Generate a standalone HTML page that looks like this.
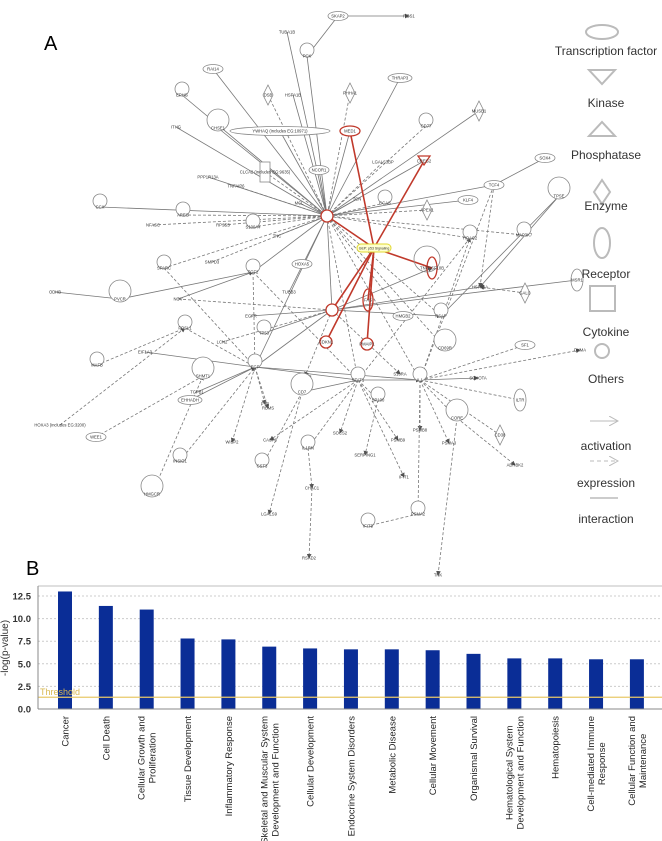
<!DOCTYPE html>
<html><head><meta charset="utf-8">
<style>
html,body{margin:0;padding:0;background:#fff;}
body{width:662px;height:841px;overflow:hidden;font-family:"Liberation Sans",sans-serif;}
svg{position:absolute;left:0;top:0;}
</style></head>
<body>
<svg id="net" width="662" height="841" viewBox="0 0 662 841">
<defs>
<marker id="ar" markerWidth="6" markerHeight="6" refX="5" refY="3" orient="auto"><path d="M0,0 L6,3 L0,6 z" fill="#555"/></marker>
<marker id="lg" markerWidth="10" markerHeight="10" refX="9" refY="5" orient="auto"><path d="M0,0 L9,5 L0,10" fill="none" stroke="#bbb"/></marker>
</defs>
<text x="44" y="50" font-size="20" fill="#000">A</text>
<text x="26" y="575" font-size="20" fill="#000">B</text>
<g id="edges"></g><g id="nodes"></g>
<g fill="none" stroke="#bbb" stroke-width="2" font-size="12">
<ellipse cx="602" cy="32" rx="16" ry="7"/>
<path d="M589,70 L615,70 L602,84 z"/>
<path d="M589,136 L615,136 L602,122 z"/>
<path d="M602,180 L610,192 L602,204 L594,192 z"/>
<ellipse cx="602" cy="243" rx="8" ry="15"/>
<rect x="590" y="286" width="25" height="25"/>
<circle cx="602" cy="351" r="7"/>
<line x1="590" y1="421" x2="618" y2="421" marker-end="url(#lg)" stroke-width="1"/>
<line x1="590" y1="461" x2="618" y2="461" stroke-dasharray="4,3" marker-end="url(#lg)" stroke-width="1"/>
<line x1="590" y1="498" x2="618" y2="498" stroke-width="1.5"/>
<g fill="#333" stroke="none" text-anchor="middle">
<text x="606" y="55">Transcription factor</text>
<text x="606" y="107">Kinase</text>
<text x="606" y="159">Phosphatase</text>
<text x="606" y="210">Enzyme</text>
<text x="606" y="278">Receptor</text>
<text x="606" y="336">Cytokine</text>
<text x="606" y="383">Others</text>
<text x="606" y="450">activation</text>
<text x="606" y="487">expression</text>
<text x="606" y="523">interaction</text>
</g></g>
</svg>

<svg id="chart" width="662" height="841" viewBox="0 0 662 841"></svg>

<script>
// ---- bar chart data ----
const categories = [["Cancer"],["Cell Death"],["Cellular Growth and","Proliferation"],["Tissue Development"],["Inflammatory Response"],["Skeletal and Muscular System","Development and Function"],["Cellular Development"],["Endocrine System Disorders"],["Metabolic Disease"],["Cellular Movement"],["Organismal Survival"],["Hematological System","Development and Function"],["Hematopoiesis"],["Cell-mediated Immune","Response"],["Cellular Function and","Maintenance"]];
const values = [13.0,11.4,11.0,7.8,7.7,6.9,6.7,6.6,6.6,6.5,6.1,5.6,5.6,5.5,5.5];
const tickValues = [0,2.5,5,7.5,10,12.5];
const tickLabels = ["0.0","2.5","5.0","7.5","10.0","12.5"];
const threshold = 1.3;

const NS="http://www.w3.org/2000/svg";
function mk(parent,tag,attrs){const e=document.createElementNS(NS,tag);for(const k in attrs)e.setAttribute(k,attrs[k]);parent.appendChild(e);return e;}
const ch=document.getElementById('chart');
const y0=709, pxPer=9.04, xL=38, xR=662;
const yS=v=>y0-v*pxPer;
const xS=i=>65+i*40.85;
let fr=mk(ch,'line',{x1:xL,y1:586,x2:xR,y2:586,stroke:'#ccc','stroke-width':1.2});


tickValues.forEach((v,i)=>{
  if(v>0){const g=mk(ch,'line',{x1:xL,y1:yS(v),x2:xR,y2:yS(v),stroke:'#ccc','stroke-dasharray':'2,2'});
  
  }
  const t=mk(ch,'text',{x:31,y:yS(v)+3.5,'text-anchor':'end','font-size':'9.5','font-weight':'bold',fill:'#333'});
  t.textContent=tickLabels[i];
  
  
});
const yt=mk(ch,'text',{x:0,y:0,transform:'translate(8,648) rotate(-90)','text-anchor':'middle','font-size':'10',fill:'#333'});
yt.textContent='-log(p-value)';


values.forEach((v,i)=>{
  const b=mk(ch,'rect',{x:xS(i)-7,y:yS(v),width:14,height:v*pxPer,fill:'#0a2d96'});
  
  
  const lines=categories[i];
  const els=lines.map((ln,j)=>{
    const t=mk(ch,'text',{x:0,y:0,'font-size':'9.5',fill:'#222'});
    t.textContent=ln;
    
    
    return t;
  });
  const maxW=Math.max(...els.map(t=>t.getComputedTextLength()));
  els.forEach((t,j)=>{
    const off=(j-(lines.length-1)/2)*11;
    if(lines.length>1){
      t.setAttribute('text-anchor','middle');
      t.setAttribute('transform',`translate(${xS(i)+off+3.5},${716+maxW/2}) rotate(-90)`);
    } else {
      t.setAttribute('text-anchor','end');
      t.setAttribute('transform',`translate(${xS(i)+3.5},716) rotate(-90)`);
    }
  });
});
const th=mk(ch,'line',{x1:xL,y1:yS(threshold),x2:xR,y2:yS(threshold),stroke:'#e8c96a','stroke-width':1.2});


const tt=mk(ch,'text',{x:40,y:yS(threshold)-2,'font-size':'9',fill:'#d9b850'});
tt.textContent='Threshold';


mk(ch,'line',{x1:xL,y1:586,x2:xL,y2:y0,stroke:'#888'});
mk(ch,'line',{x1:xL,y1:y0,x2:xR,y2:y0,stroke:'#888'});

// ---- network ----
const nodes = {
SKAP2:[338,16,'SKAP2','o'],RGS1:[409,16,'RGS1','t'],TUBA1B:[287,32,'TUBA1B','t'],PCK:[307,56,'PCK','c'],
RAI14:[213,69,'RAI14','o'],HSPA1B:[293,95,'HSPA1B','t'],DSB:[268,95,'DSB','d'],THRAP3:[400,78,'THRAP3','o'],
PHHA1:[350,93,'PHHA1','d'],EPHG:[182,95,'EPHG','c'],MUSB1:[479,111,'MUSB1','d'],YWHAQ:[280,131,'YWHAQ (includes EG:10971)','o'],
MED1:[350,131,'MED1','r'],CD77:[426,126,'CD77','c'],CHSE1:[218,128,'CHSE1','C'],ITHG:[176,127,'ITHG','t'],
LGALS3BP:[383,162,'LGALS3BP','t'],CREG2:[424,161,'CREG2','rt'],SOX4:[545,158,'SOX4','o'],TCF4:[494,185,'TCF4','o'],
NCOR1:[319,170,'NCOR1','o'],CLCA2:[265,172,'CLCA2 (includes EG:9635)','s'],PPP1R13A:[208,177,'PPP1R13A','t'],TNFAIP6:[236,186,'TNFAIP6','t'],
TCN:[357,199,'TCN','t'],MCL:[299,203,'MCL','t'],HUB1:[327,216,'','rc'],CCAS:[385,203,'CCAS','c'],KLF4:[468,200,'KLF4','o'],
AREG:[183,215,'AREG','c'],CCX:[100,207,'CCX','c'],NFASC:[153,225,'NFASC','t'],RPS:[223,225,'RPS5S','t'],S100A4:[253,227,'S100A4','c'],
TNC:[277,236,'TNC','t'],APEX1:[427,210,'APEX1','d'],GEP:[374,248,'GEP: p53 Signaling','g'],HOAC2:[470,238,'HOAC2','c'],
MAP3K7:[524,235,'MAP3K7','c'],TPSE:[559,196,'TPSE','C'],SPARC:[164,268,'SPARC','c'],SMPD:[212,262,'SMPD3','t'],TGF2:[253,272,'TGF2','c'],
TUBB3:[289,292,'TUBB3','t'],HOXA3b:[302,264,'HOXA5','o'],FAS:[368,300,'FAS','re'],TNFR:[432,268,'TNFRSF10B','re'],HMGB2:[403,316,'HMGB2','o'],
PSAP:[441,316,'PSAP','c'],HSPA1A:[480,287,'HSPA1A','t'],GALC:[525,293,'GALC','d'],MSR1:[577,280,'MSR1','e'],PVCR:[120,299,'PVCR','C'],
NOV:[178,299,'NOV','t'],EGF2:[251,316,'EGFR','t'],HUB2:[332,310,'','rc'],CDKN1:[326,342,'CDKN1','rc'],PMAIP1:[367,344,'PMAIP1','rc'],
ODHB:[55,292,'ODHB','t'],FOSL1:[185,328,'FOSL1','c'],LCN2:[222,342,'LCN2','t'],SF1:[525,345,'SF1','o'],DKMA:[580,350,'DKMA','t'],
TP:[264,333,'TP53','c'],STAT1:[358,380,'STAT1','c'],S10RA:[400,374,'S10RA','t'],CD69R:[445,348,'CD69R','C'],EIF1A:[145,352,'EIF1A3','t'],
MAFB:[97,365,'MAFB','c'],EGF:[255,367,'EGF','c'],EMT:[203,376,'SHMT1','C'],ICAM:[305,376,'ICAMs','t'],TGFB:[197,392,'TGFB1','t'],
EHHADH:[190,400,'EHHADH','o'],IL1:[420,380,'IL1','c'],SOHOTA:[478,378,'SOHOTA','t'],ILTR:[520,400,'ILTR','e'],CD7:[302,392,'CD7','C'],
SP100:[378,400,'SP100','c'],CORE:[457,418,'CORE','C'],CD38:[500,435,'CD38','d'],HOXA3:[60,425,'HOXA3 (includes EG:3200)','t'],
WEE1:[96,437,'WEE1','o'],WISP2:[232,442,'WISP2','t'],CASP:[270,440,'CASP8','t'],RBMS:[268,408,'RBMS','t'],PYE:[265,404,'PYE','t'],
SOCS2:[340,433,'SOCS2','t'],PSMB8:[420,430,'PSMB8','t'],PSMB9:[398,440,'PSMB9','t'],PSMA3:[449,443,'PSMA3','t'],IL1RN:[308,448,'IL1RN','c'],
SERPING1:[365,455,'SERPING1','t'],ADRBK2:[515,465,'ADRBK2','t'],INSIG1:[180,461,'INSIG1','c'],CST3:[262,466,'CST3','c'],HMGCR:[152,494,'HMGCR','C'],
IFIT1:[404,477,'IFIT1','t'],CHAC1:[312,488,'CHAC1','t'],PSMA2:[418,514,'PSMA2','c'],IFIT3:[368,526,'IFIT3','c'],LGALS9:[269,514,'LGALS9','t'],
RSAD2:[309,558,'RSAD2','t'],TNK:[438,575,'TNK','t']
};
const edges = [
['SKAP2','RGS1',0],['SKAP2','PCK',0],['TUBA1B','HUB1',0],['PCK','HUB1',0],['HSPA1B','HUB1',0],['DSB','HUB1',1],['RAI14','HUB1',0],['THRAP3','HUB1',0],
['PHHA1','HUB1',1],['EPHG','HUB1',0],['MUSB1','HUB1',0],['YWHAQ','HUB1',0],['MED1','HUB1',0],['CD77','HUB1',1],['CHSE1','HUB1',0],['ITHG','HUB1',0],
['LGALS3BP','HUB1',1],['CREG2','HUB1',0],['SOX4','TCF4',0],['TCF4','HUB1',0],['NCOR1','HUB1',0],['CLCA2','HUB1',1],['PPP1R13A','HUB1',0],['TNFAIP6','HUB1',1],
['TCN','HUB1',0],['MCL','HUB1',0],['CCAS','HUB1',1],['KLF4','HUB1',0],['AREG','HUB1',1],['CCX','HUB1',0],['NFASC','HUB1',1],['RPS','HUB1',1],['S100A4','HUB1',1],
['TNC','HUB1',0],['APEX1','HUB1',1],['HOAC2','HUB1',1],['MAP3K7','HUB1',1],['TPSE','HSPA1A',0],['SPARC','HUB1',1],['SMPD','HUB1',1],['TGF2','HUB1',0],
['TUBB3','HUB1',0],['HUB1','HUB2',0],['HUB1','STAT1',1],['HUB1','IL1',1],['HUB1','EGF',0],['HUB1','PSAP',1],['HUB1','HMGB2',1],['HUB1','CD69R',1],
['HSPA1A','HUB2',0],['MSR1','HUB2',0],['GALC','HSPA1A',1],['PVCR','TGF2',0],['ODHB','PVCR',0],['NOV','TGF2',0],['NOV','HUB2',1],['FOSL1','EGF',1],
['EIF1A','EGF',0],['MAFB','FOSL1',1],['HOXA3','FOSL1',1],['WEE1','EMT',1],['HMGCR','EMT',1],['INSIG1','EGF',1],['EHHADH','EGF',0],['TGFB','EGF',0],
['EGF','STAT1',0],['EGF','IL1',0],['EGF','HUB2',0],['EGF2','HUB2',0],['LCN2','HUB2',1],['TP','HUB2',0],['SPARC','EGF',1],['TGF2','EGF',1],['TGF2','STAT1',1],
['STAT1','IL1',0],['STAT1','SP100',1],['STAT1','SOCS2',1],['STAT1','IL1RN',1],['STAT1','CASP',1],['STAT1','PSMB9',1],['STAT1','IFIT1',1],['STAT1','CD7',0],
['IL1','SF1',1],['IL1','DKMA',1],['IL1','CORE',1],['IL1','PSMB8',1],['IL1','PSMA3',1],['IL1','ILTR',1],['IL1','SOHOTA',0],['IL1','CD38',1],['IL1','PSMA2',1],
['IL1','HOAC2',1],['IL1','TCF4',1],['CORE','ADRBK2',1],['CORE','TNK',1],['PSMA2','IFIT3',1],['IL1RN','CHAC1',1],['CHAC1','RSAD2',1],['CD7','LGALS9',1],
['CD7','CST3',1],['SP100','SERPING1',1],['EGF','WISP2',1],['EGF','PYE',1],['EGF','RBMS',1],['HUB2','S10RA',1],['HUB2','PSAP',0],['HUB2','ICAM',1],
['HUB2','TNFR',0],['TCF4','HSPA1A',1],['HOAC2','STAT1',1],['TPSE','PSAP',0]
];
const red = [['GEP','MED1'],['GEP','CREG2'],['GEP','HUB1'],['GEP','TNFR'],['GEP','FAS'],['GEP','HUB2'],['GEP','CDKN1'],['GEP','PMAIP1']];
const eg=document.getElementById('edges'), ng=document.getElementById('nodes');
edges.forEach(e=>{
  const a=nodes[e[0]],b=nodes[e[1]];
  const l=mk(eg,'line',{x1:a[0],y1:a[1],x2:b[0],y2:b[1],stroke:'#777','stroke-width':0.8,'marker-end':'url(#ar)'});
  if(e[2])l.setAttribute('stroke-dasharray','3,2');
  
  
});
red.forEach(e=>{
  const a=nodes[e[0]],b=nodes[e[1]];
  const l=mk(eg,'line',{x1:a[0],y1:a[1],x2:b[0],y2:b[1],stroke:'#c0392b','stroke-width':1.6});
  
  
});
for(const k in nodes){
  const [x,y,lab,sh]=nodes[k];
  const g=mk(ng,'g',{});
  
  
  const st={fill:'#fff',stroke:'#888','stroke-width':0.8};
  if(sh==='o')mk(g,'ellipse',Object.assign({cx:x,cy:y,rx:Math.max(10,lab.length*2),ry:4.5},st));
  else if(sh==='c')mk(g,'circle',Object.assign({cx:x,cy:y-6,r:7},st));
  else if(sh==='C')mk(g,'circle',Object.assign({cx:x,cy:y-8,r:11},st));
  else if(sh==='d')mk(g,'path',Object.assign({d:`M${x},${y-10} L${x+5},${y} L${x},${y+10} L${x-5},${y} z`},st));
  else if(sh==='s')mk(g,'rect',Object.assign({x:x-5,y:y-10,width:10,height:20},st));
  else if(sh==='e')mk(g,'ellipse',Object.assign({cx:x,cy:y,rx:6,ry:11},st));
  else if(sh==='r')mk(g,'ellipse',{cx:x,cy:y,rx:10,ry:5,fill:'#fff',stroke:'#c0392b','stroke-width':1.3});
  else if(sh==='rc'){mk(g,'circle',{cx:x,cy:y,r:6,fill:'#fff',stroke:'#c0392b','stroke-width':1.3});}
  else if(sh==='re'){mk(g,'ellipse',{cx:x,cy:y,rx:5,ry:11,fill:'none',stroke:'#c0392b','stroke-width':1.3});if(k==='TNFR')mk(g,'circle',{cx:x-5,cy:y-9,r:13,fill:'none',stroke:'#888','stroke-width':0.8});}
  else if(sh==='rt')mk(g,'path',{d:`M${x-6},${y-5} L${x+6},${y-5} L${x},${y+4} z`,fill:'#fff',stroke:'#c0392b','stroke-width':1.3});
  else if(sh==='g'){mk(g,'rect',{x:x-17,y:y-4,width:34,height:8,rx:4,fill:'#ffffd0',stroke:'#e0d830','stroke-width':1});}
  if(lab){const t=mk(g,'text',{x:x,y:y+1.5,'text-anchor':'middle','font-size':sh==='g'?'3.5':'4.2',fill:'#333'});t.textContent=lab;}
}
</script>
</body></html>
